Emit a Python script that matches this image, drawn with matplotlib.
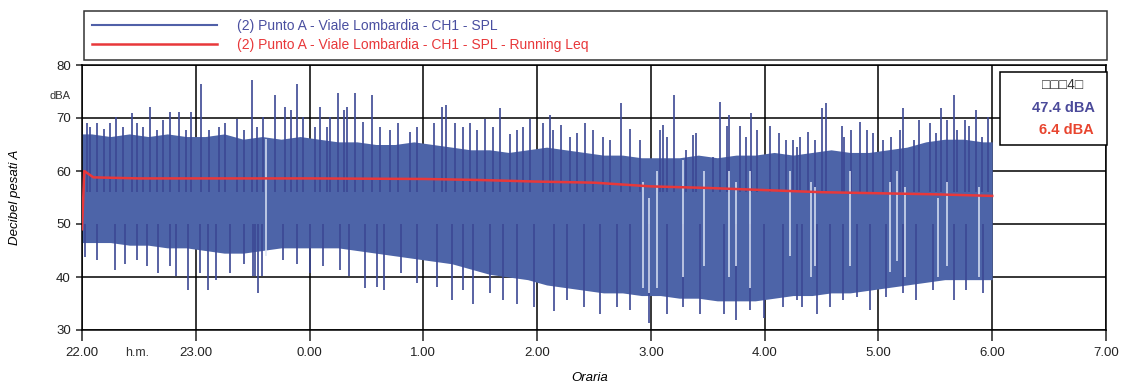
#!/usr/bin/env python3
# -*- coding: utf-8 -*-
import matplotlib.pyplot as plt
import numpy as np
from matplotlib.patches import Rectangle

plt.rcParams['font.family'] = ['Liberation Sans', 'DejaVu Sans']

BLU = '#4d64a8'
BLU_SCURO = '#3c4894'
ROSSO = '#e8383a'

# ---- dati (ore dopo le 22.00; 8 = 6.00) ----
# inviluppo del segnale SPL, un valore ogni 10 minuti
spl_alto = [67, 66.5, 67, 66.5, 67, 66.5,
            66.5, 67, 66, 66.5, 66, 66.5,
            66, 65.5, 65.5, 65, 65, 65.5,
            65, 64.5, 64, 64, 63.5, 64,
            64.5, 64, 63.5, 63, 63, 62.5,
            62.5, 62.5, 63, 62.5, 63, 63,
            63.5, 63, 63.5, 64, 63.5, 63.5,
            64, 64.5, 65.5, 66, 66, 65.5]
spl_basso = [46.5, 46.5, 46, 46, 45.5, 45.5,
             45, 44.5, 44.5, 45, 45.5, 45.5,
             45.5, 45.5, 45, 44.5, 44, 43.5,
             43, 42.5, 41.5, 40.5, 40, 39.5,
             38.5, 38, 37.5, 37, 37, 36.5,
             36.5, 36, 36, 35.5, 35.5, 35.5,
             36, 36.5, 36.5, 37, 37, 37.5,
             38, 38.5, 39, 39.5, 39.5, 39.5]

# picchi verso l'alto
picchi_t = [0.04, 0.07, 0.13, 0.19, 0.25, 0.30, 0.36, 0.44, 0.48, 0.54, 0.60,
            0.66, 0.71, 0.77, 0.85, 0.91, 0.96, 1.05, 1.12, 1.20, 1.26, 1.36,
            1.42, 1.49, 1.54, 1.59, 1.70, 1.78, 1.84, 1.89, 1.94,
            2.05, 2.09, 2.15, 2.18, 2.25, 2.30, 2.33, 2.40, 2.47, 2.55, 2.62,
            2.71, 2.78, 2.88, 2.94, 3.09, 3.16, 3.20, 3.28, 3.35, 3.41, 3.47,
            3.54, 3.61, 3.67, 3.76, 3.82, 3.88, 3.94, 4.05, 4.11,
            4.14, 4.21, 4.29, 4.35, 4.42, 4.49, 4.58, 4.64, 4.74, 4.82, 4.90,
            5.08, 5.11, 5.14, 5.20, 5.31, 5.37, 5.40, 5.55, 5.61, 5.67, 5.69,
            5.78, 5.84, 5.88, 5.93, 6.05, 6.13, 6.19, 6.25, 6.28, 6.31, 6.38,
            6.44, 6.50, 6.54, 6.68, 6.70, 6.76, 6.84, 6.90, 6.95, 7.04, 7.11,
            7.19, 7.22, 7.31, 7.36, 7.45, 7.51, 7.55, 7.60, 7.66, 7.69, 7.76,
            7.80, 7.86, 7.91, 7.96]
picchi_db = [69.0, 68.3, 69.0, 68.0, 69.0, 70.2, 68.3, 70.9, 69.0, 68.3, 72.1,
             67.7, 69.6, 71.2, 71.2, 67.7, 71.2, 76.5, 67.7, 68.3, 69.0, 69.9,
             67.7, 77.2, 68.3, 70.2, 74.3, 72.1, 71.5, 76.5, 70.2,
             68.3, 72.1, 68.3, 70.2, 74.7, 71.5, 72.1, 74.7, 69.3, 74.3, 68.3,
             67.7, 69.0, 67.4, 68.3, 69.0, 72.1, 72.5, 69.0, 68.3, 69.0, 67.7,
             69.9, 68.3, 71.8, 67.0, 67.7, 68.3, 69.9, 69.0, 70.6,
             67.7, 68.7, 66.5, 67.1, 69.0, 67.7, 66.5, 65.8, 72.8, 68.0, 65.8,
             67.7, 68.7, 66.5, 74.3, 64.0, 66.8, 67.1, 62.7, 73.1, 68.4, 70.6,
             68.4, 66.5, 70.9, 67.7, 68.4, 67.1, 65.8, 65.8, 64.6, 66.5, 67.4,
             65.8, 71.8, 72.8, 68.4, 66.5, 67.7, 69.3, 67.7, 67.1, 65.8, 66.5,
             67.7, 71.8, 65.8, 69.6, 69.0, 67.1, 71.8, 69.7, 74.3, 67.7, 69.6,
             68.4, 71.5, 66.5, 70.2]

# picchi verso il basso
minimi_t = [0.03, 0.13, 0.29, 0.38, 0.48, 0.57, 0.67, 0.77, 0.83, 0.93, 1.04,
            1.11, 1.18, 1.30, 1.42, 1.50, 1.52, 1.55, 1.58, 1.77, 1.89, 2.00,
            2.12, 2.27, 2.35, 2.49, 2.59, 2.65, 2.80, 2.94, 3.12, 3.25, 3.35,
            3.44, 3.59, 3.70, 3.82, 3.97, 4.15, 4.26, 4.41, 4.55, 4.70, 4.82,
            4.98, 5.14, 5.28, 5.43, 5.64, 5.75, 5.87, 5.99, 6.16, 6.28, 6.33,
            6.46, 6.57, 6.69, 6.81, 6.93, 7.07, 7.22, 7.33, 7.48, 7.66, 7.77,
            7.92]
minimi_db = [43.8, 43.2, 41.3, 42.5, 43.2, 42.0, 40.7, 42.0, 40.1, 37.5, 40.7,
             37.5, 39.5, 40.7, 42.5, 40.1, 40.1, 37.0, 40.1, 43.2, 42.5, 40.7,
             42.0, 41.3, 40.1, 37.9, 38.2, 37.5, 40.7, 38.8, 38.2, 35.7, 37.5,
             35.0, 36.9, 35.7, 35.0, 34.4, 33.5, 35.7, 34.4, 33.1, 34.4, 33.8,
             31.3, 33.1, 34.4, 33.1, 33.1, 31.9, 33.8, 32.2, 34.4, 35.7, 34.4,
             33.1, 34.4, 35.7, 36.3, 33.8, 36.3, 36.9, 35.7, 37.5, 35.7, 37.5,
             36.9]

# brevi cadute del segnale (righe chiare nella fascia)
buchi_t = [1.62, 4.93, 4.98, 5.05, 5.28, 5.47, 5.69, 5.75, 5.87, 6.22, 6.41,
           6.44, 6.75, 7.10, 7.16, 7.23, 7.52, 7.60, 7.88]
buchi_min = [44, 38, 37, 38, 40, 42, 40, 42, 38, 44, 40, 42, 42, 41, 43, 40,
             40, 42, 40]
buchi_max = [66, 58, 55, 60, 62, 60, 60, 58, 60, 60, 58, 57, 60, 58, 60, 57,
             55, 58, 57]

# Running Leq
leq_t = [0.0, 0.02, 0.1, 0.5, 1.0, 2.0, 3.0, 3.5, 4.0, 4.5, 5.0, 5.5, 6.0,
         6.5, 7.0, 7.5, 8.0]
leq_db = [49.0, 60.0, 58.8, 58.6, 58.6, 58.6, 58.5, 58.3, 58.0, 57.8, 57.1,
          56.8, 56.4, 56.0, 55.8, 55.6, 55.3]

ore_tick = [22, 23, 24, 25, 26, 27, 28, 29, 30, 31]
ore_lab = ['22.00', '23.00', '0.00', '1.00', '2.00', '3.00', '4.00', '5.00',
           '6.00', '7.00']
db_tick = [30, 40, 50, 60, 70, 80]

if __name__ == '__main__':
    fig = plt.figure(figsize=(11.21, 3.86), dpi=100)
    ax = fig.add_axes([82 / 1121, 1 - 330 / 386, 1024 / 1121, 265 / 386])

    # centri degli intervalli da 10 minuti, piu' gli estremi 22.00 e 6.00
    t_env = 22 + (np.arange(len(spl_alto)) + 0.5) / 6.0
    t_env = np.concatenate(([22.0], t_env, [30.0]))
    alto = [spl_alto[0]] + spl_alto + [spl_alto[-1]]
    basso = [spl_basso[0]] + spl_basso + [spl_basso[-1]]
    ax.fill_between(t_env, basso, alto, color=BLU, lw=0, zorder=2)
    ax.vlines(22 + np.array(picchi_t), 56, picchi_db, color=BLU_SCURO,
              lw=1.2, zorder=3)
    ax.vlines(22 + np.array(minimi_t), minimi_db, 50, color=BLU_SCURO,
              lw=1.2, zorder=3)
    ax.vlines(22 + np.array(buchi_t), buchi_min, buchi_max, color='#dbe3f4',
              lw=1.1, zorder=3.5)
    ax.plot(22 + np.array(leq_t), leq_db, color=ROSSO, lw=1.8, zorder=4)

    ax.set_xlim(22, 31)
    ax.set_ylim(30, 80)
    ax.set_xticks(ore_tick)
    ax.set_xticklabels(ore_lab)
    ax.set_yticks(db_tick)
    ax.grid(True, color='black', lw=1.1)
    ax.set_axisbelow(True)
    for s in ax.spines.values():
        s.set_linewidth(1.1)
    ax.tick_params(axis='x', direction='out', length=8, width=1.1, pad=4,
                   labelsize=9.5, colors='#222222')
    ax.tick_params(axis='y', direction='out', length=4, width=1.1, pad=4,
                   labelsize=9.5, colors='#222222')

    # legenda in alto
    h1 = plt.Line2D([], [], color='#5060a8', lw=1.5)
    h2 = plt.Line2D([], [], color=ROSSO, lw=1.8)
    leg = fig.legend([h1, h2],
                     ['(2) Punto A - Viale Lombardia - CH1 - SPL',
                      '(2) Punto A - Viale Lombardia - CH1 - SPL - Running Leq'],
                     loc='upper left',
                     bbox_to_anchor=(84 / 1121, 1 - 11 / 386, 1023 / 1121, 0.001),
                     mode='expand', borderaxespad=0, handlelength=9.0,
                     handletextpad=1.4, labelspacing=0.35, borderpad=0.6,
                     fancybox=False, edgecolor='black', fontsize=10,
                     labelcolor=['#4a4fa0', ROSSO])
    leg.get_frame().set_linewidth(1.1)

    # riquadro valori
    fig.add_artist(Rectangle((1000 / 1121, 1 - 145 / 386), 107 / 1121, 73 / 386,
                             transform=fig.transFigure, fc='white', ec='black',
                             lw=1.1, zorder=5))
    fig.text(1063 / 1121, 1 - 85 / 386, '□□□4□', ha='center', va='center',
             fontsize=10, color='#333333', zorder=6)
    fig.text(1063 / 1121, 1 - 108 / 386, '47.4 dBA', ha='center', va='center',
             fontsize=10.5, fontweight='bold', color='#4b4a9a', zorder=6)
    fig.text(1066 / 1121, 1 - 130 / 386, '6.4 dBA', ha='center', va='center',
             fontsize=10.5, fontweight='bold', color='#e8452f', zorder=6)

    fig.text(15 / 1121, 1 - 197 / 386, 'Decibel pesati A', rotation=90,
             ha='center', va='center', fontsize=9.5, style='italic')
    fig.text(60 / 1121, 1 - 96 / 386, 'dBA', ha='center', va='center',
             fontsize=8, color='#333333')
    fig.text(137 / 1121, 1 - 353 / 386, 'h.m.', ha='center', va='center',
             fontsize=9, color='#333333')
    fig.text(590 / 1121, 1 - 378 / 386, 'Oraria', ha='center', va='center',
             fontsize=9.5, style='italic')

    fig.savefig('out.png', dpi=100)
